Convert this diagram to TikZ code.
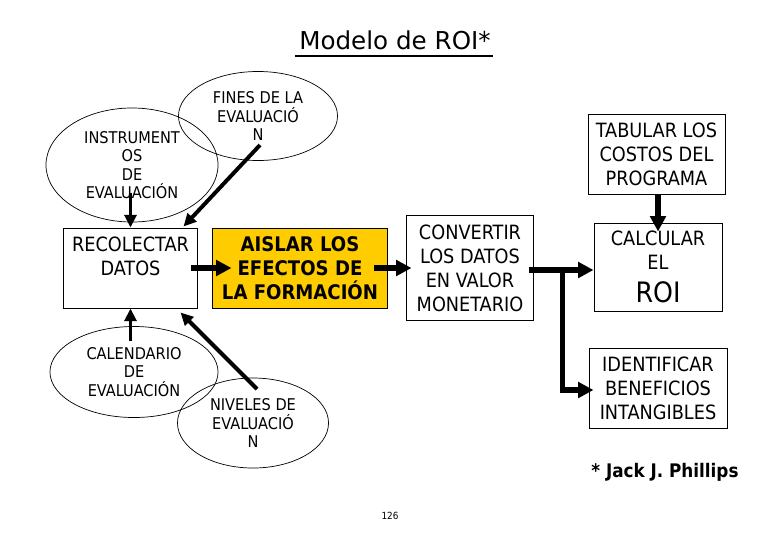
\documentclass[tikz,border=0pt]{standalone}
\usepackage{fontspec}
\setmainfont{DejaVu Sans Condensed}
\newfontfamily\titlefont{DejaVu Sans}
\usetikzlibrary{shapes.geometric,arrows.meta,calc}
\definecolor{oro}{HTML}{FFCC00}
\begin{document}
\begin{tikzpicture}[x=0.025cm, y=-0.025cm, line join=miter,
	caja/.style={draw, line width=0.7pt, align=center, inner sep=0pt, font=\fontsize{14}{17}\selectfont},
	elipse/.style={draw, ellipse, line width=0.5pt, align=center, inner sep=0pt, font=\fontsize{11.5}{13.2}\selectfont},
	flecha/.style={line width=4pt, -{Triangle[length=11pt,width=11pt]}},
	flechita/.style={line width=2.8pt, -{Triangle[length=9pt,width=8.5pt]}}]
	\useasboundingbox (0,0) rectangle (780,540);
	% titulo
	\node[font=\titlefont\fontsize{17.5}{20}\selectfont, anchor=base, inner sep=0pt] (titulo) at (395,49) {Modelo de ROI*};
	\draw[line width=1.4pt] ($(titulo.base west)+(-4,7)$) -- ($(titulo.base east)+(2,7)$);
	% cajas
	\node[caja, minimum width=3.325cm, minimum height=2cm] (rec) at (130.5,268) {RECOLECTAR\\DATOS\\~};
	\node[caja, fill=oro, font=\fontsize{14.3}{17}\selectfont\bfseries, minimum width=4.35cm, minimum height=2cm] (ais) at (300,268) {AISLAR LOS\\EFECTOS DE\\LA FORMACIÓN};
	\node[caja, minimum width=3.15cm, minimum height=2.6cm] (conv) at (470,268) {CONVERTIR\\LOS DATOS\\EN VALOR\\MONETARIO};
	\node[caja, minimum width=3.425cm, minimum height=2cm] (tab) at (656.5,154) {TABULAR LOS\\COSTOS DEL\\PROGRAMA};
	\node[caja, minimum width=3.2cm, minimum height=2.2cm] (calc) at (658,267) {CALCULAR\\EL\\[6pt]{\fontsize{20}{20}\selectfont ROI}};
	\node[caja, minimum width=3.45cm, minimum height=2cm] (iden) at (658,388) {IDENTIFICAR\\BENEFICIOS\\INTANGIBLES};
	% elipses
	\node[elipse, minimum width=4.3cm, minimum height=2.85cm] (ins) at (132,165) {INSTRUMENT\\OS\\DE\\EVALUACIÓN};
	\node[elipse, minimum width=3.975cm, minimum height=2.225cm] (fin) at (258,116) {FINES DE LA\\EVALUACIÓ\\N};
	\node[elipse, minimum width=4.2cm, minimum height=2.275cm] (cal) at (134,372) {CALENDARIO\\DE\\EVALUACIÓN};
	\node[elipse, minimum width=3.775cm, minimum height=2.25cm] (niv) at (253,423) {NIVELES DE\\EVALUACIÓ\\N};
	% flechas
	\draw[flechita] ($(rec.north)+(0,-35)$) -- (rec.north);
	\draw[flechita] ($(fin.center)+(2,29)$) -- ($(rec.north east)+(-14,-1)$);
	\draw[flechita] ($(rec.south)+(0,32)$) -- (rec.south);
	\draw[flechita] ($(niv.center)+(4,-34)$) -- ($(rec.south east)+(-17,4)$);
	\draw[flecha] ($(rec.east)+(-7,0)$) -- ($(ais.west)+(19,0)$);
	\draw[flecha] ($(ais.east)+(-14,0)$) -- ($(conv.west)+(5,0)$);
	\coordinate (cruce) at ($(conv.east)+(29,2)$);
	\draw[flecha] ($(conv.east)+(-5,2)$) -- (calc.west |- cruce);
	\draw[flecha] (cruce) |- ($(iden.west)+(5,2)$);
	\draw[flecha] (tab.south -| calc.north) -- ($(calc.north)+(0,9)$);
	% pie
	\node[font=\bfseries\fontsize{13.3}{15}\selectfont, anchor=base] (autor) at (665,477) {* Jack J. Phillips};
	\node[font=\fontsize{7}{8}\selectfont, anchor=base] (pagina) at (390,519) {126};
\end{tikzpicture}
\end{document}
